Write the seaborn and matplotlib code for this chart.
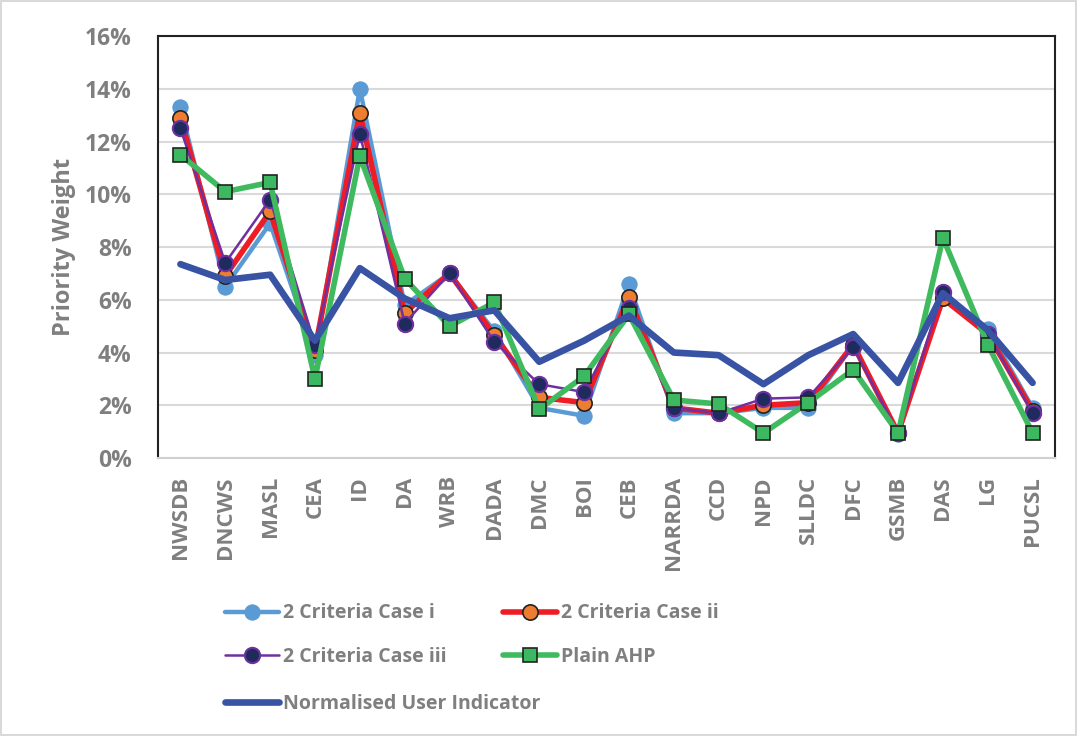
import pandas as pd
import numpy as np
import seaborn as sns
import matplotlib.pyplot as plt
from matplotlib.ticker import PercentFormatter

# agencies on the x axis
agencies = ["NWSDB", "DNCWS", "MASL", "CEA", "ID", "DA", "WRB", "DADA", "DMC", "BOI",
            "CEB", "NARRDA", "CCD", "NPD", "SLLDC", "DFC", "GSMB", "DAS", "LG", "PUCSL"]

# priority weights (%)
case_i = [13.3, 6.5, 8.9, 3.9, 14.0, 5.8, 7.0, 4.8, 1.9, 1.6,
          6.6, 1.7, 1.7, 1.9, 1.9, 4.3, 0.9, 6.2, 4.9, 1.9]
case_ii = [12.9, 6.9, 9.35, 4.1, 13.1, 5.5, 7.0, 4.65, 2.3, 2.1,
           6.1, 1.9, 1.7, 2.0, 2.1, 4.3, 0.95, 6.05, 4.7, 1.8]
case_iii = [12.5, 7.4, 9.8, 4.3, 12.3, 5.1, 7.0, 4.4, 2.8, 2.5,
            5.7, 1.9, 1.7, 2.25, 2.3, 4.2, 0.95, 6.3, 4.7, 1.7]
plain_ahp = [11.5, 10.1, 10.45, 3.0, 11.45, 6.8, 5.0, 5.9, 1.85, 3.1,
             5.45, 2.2, 2.05, 0.95, 2.1, 3.35, 0.95, 8.35, 4.3, 0.95]
user_ind = [7.35, 6.75, 6.95, 4.45, 7.2, 6.05, 5.3, 5.6, 3.65, 4.45,
            5.4, 4.0, 3.9, 2.8, 3.9, 4.7, 2.85, 6.25, 4.85, 2.85]

sns.set_style("white")
plt.rcParams['font.family'] = ['Open Sans', 'DejaVu Sans']
grey = "#7f7f7f"

fig = plt.figure(figsize=(10.77, 7.36), dpi=100)
fig.patch.set_edgecolor("#d9d9d9")
fig.patch.set_linewidth(1.5)
ax = fig.add_axes([0.1467, 0.3777, 0.8329, 0.5733])

ms = 11
sns.lineplot(x=agencies, y=case_i, ax=ax, sort=False, color="#5b9bd5", lw=3.2,
             marker="o", markersize=ms, markeredgecolor="#5b9bd5",
             label="2 Criteria Case i", zorder=2)
sns.lineplot(x=agencies, y=case_ii, ax=ax, sort=False, color="#ee1c25", lw=4,
             marker="o", markersize=ms, markerfacecolor="#ed7d31",
             markeredgecolor="#222222", markeredgewidth=1.2,
             label="2 Criteria Case ii", zorder=3)
sns.lineplot(x=agencies, y=case_iii, ax=ax, sort=False, color="#7030a0", lw=1.8,
             marker="o", markersize=ms, markerfacecolor="#1f2a5e",
             markeredgecolor="#7030a0", markeredgewidth=1.5,
             label="2 Criteria Case iii", zorder=4)
sns.lineplot(x=agencies, y=plain_ahp, ax=ax, sort=False, color="#3fba5f", lw=4,
             marker="s", markersize=ms - 0.5, markerfacecolor="#3cb860",
             markeredgecolor="#222222", markeredgewidth=1.2,
             label="Plain AHP", zorder=5)
sns.lineplot(x=agencies, y=user_ind, ax=ax, sort=False, color="#3953a4", lw=4.8,
             label="Normalised User Indicator", zorder=6)

ax.set_xlim(-0.5, len(agencies) - 0.5)
ax.set_ylim(0, 16)
ax.set_yticks(np.arange(0, 17, 2))
ax.yaxis.set_major_formatter(PercentFormatter(decimals=0))
ax.grid(axis="y", color="#d9d9d9", lw=1.5)
ax.set_axisbelow(True)
for s in ["top", "left", "right"]:
    ax.spines[s].set_color("#222222")
    ax.spines[s].set_linewidth(1.5)
ax.spines["bottom"].set_color("#d0d0d0")
ax.spines["bottom"].set_linewidth(1.5)

ax.tick_params(axis="x", labelrotation=90, labelsize=16, labelcolor=grey, length=0, pad=13)
ax.tick_params(axis="y", labelsize=16.5, labelcolor=grey, length=0, pad=19)
for t in ax.get_xticklabels() + ax.get_yticklabels():
    t.set_fontweight("bold")
ax.set_ylabel("Priority Weight", fontsize=17, fontweight="bold", color=grey, labelpad=6)

# legend: two columns for the four cases, user indicator on its own row
h, l = ax.get_legend_handles_labels()
ax.get_legend().remove()
order = [0, 2, 1, 3]
legprops = {"weight": "bold", "size": 14}
leg1 = ax.legend([h[i] for i in order], [l[i] for i in order], ncol=2,
                 loc="upper left", bbox_to_anchor=(0.055, -0.303), frameon=False,
                 prop=legprops, handlelength=2.8, handletextpad=0.2,
                 columnspacing=2.9, labelspacing=1.2)
for t in leg1.get_texts():
    t.set_color(grey)
ax.add_artist(leg1)
leg2 = ax.legend([h[4]], [l[4]], loc="upper left", bbox_to_anchor=(0.055, -0.518),
                 frameon=False, prop=legprops, handlelength=2.8, handletextpad=0.2)
for t in leg2.get_texts():
    t.set_color(grey)

plt.savefig("out.png", dpi=100)
